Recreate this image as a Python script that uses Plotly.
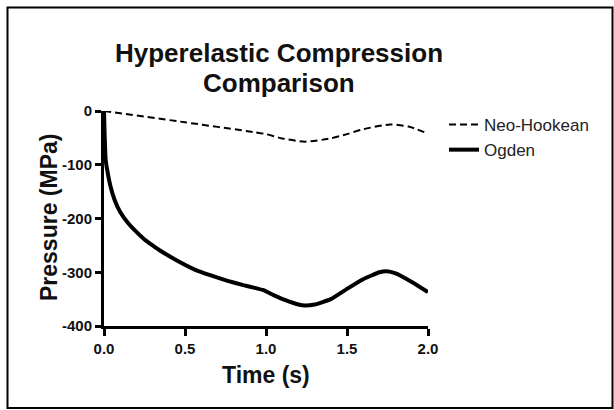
import plotly.graph_objects as go

t_ogden = [0.0, 0.004, 0.01, 0.02, 0.04, 0.065, 0.1, 0.147, 0.2, 0.25, 0.3, 0.353, 0.45, 0.56, 0.66, 0.763, 0.86, 0.93, 0.98, 1.05, 1.12, 1.2, 1.24, 1.3, 1.4, 1.5, 1.6, 1.7, 1.745, 1.8, 1.9, 2.0]
p_ogden = [0, -45, -90, -110, -140, -165, -188, -208, -225, -239, -250, -261, -278, -295, -306, -316, -324, -329, -333, -343, -352, -360, -362, -360, -350, -331, -313, -300, -298, -302, -318, -337]

t_neo = [0.0, 0.5, 0.92, 1.0, 1.1, 1.24, 1.4, 1.5, 1.6, 1.765, 1.88, 2.0]
p_neo = [0, -21, -39, -43, -51, -57, -51, -43, -34, -25, -29, -42]

x_ticks = [0.0, 0.5, 1.0, 1.5, 2.0]
x_tick_labels = ["0.0", "0.5", "1.0", "1.5", "2.0"]
y_ticks = [0, -100, -200, -300, -400]
y_tick_labels = ["0", "-100", "-200", "-300", "-400"]

fig = go.Figure()
fig.add_trace(go.Scatter(x=t_neo, y=p_neo, mode="lines", name="Neo-Hookean",
                         line=dict(color="black", width=2, dash="7px,4px", shape="spline", smoothing=0.6)))
fig.add_trace(go.Scatter(x=t_ogden, y=p_ogden, mode="lines", name="Ogden",
                         line=dict(color="black", width=4, shape="spline", smoothing=0.4)))

L, R, T, B = 104, 186, 111, 84
W, H = 614, 410
pw, ph = W - L - R, H - T - B

def px2paper_x(px):
    return (px - L) / pw

def py2paper_y(py):
    return (H - B - py) / ph

fig.add_shape(type="rect", xref="paper", yref="paper",
              x0=px2paper_x(7.5), x1=px2paper_x(612.5), y0=py2paper_y(408), y1=py2paper_y(7.5),
              line=dict(color="black", width=2), fillcolor="rgba(0,0,0,0)")

title_font = dict(size=26, family="Liberation Sans, Arial, sans-serif", color="#111111", weight="bold")
fig.add_annotation(text="Hyperelastic Compression", xref="paper", yref="paper",
                   x=px2paper_x(279), y=py2paper_y(53), xanchor="center", yanchor="middle",
                   showarrow=False, font=title_font)
fig.add_annotation(text="Comparison", xref="paper", yref="paper",
                   x=px2paper_x(279), y=py2paper_y(83), xanchor="center", yanchor="middle",
                   showarrow=False, font=title_font)

axis_title_font = dict(size=23, family="Liberation Sans, Arial, sans-serif", color="#111111", weight="bold")
fig.add_annotation(text="Time (s)", xref="paper", yref="paper",
                   x=px2paper_x(266), y=py2paper_y(375), xanchor="center", yanchor="middle",
                   showarrow=False, font=axis_title_font)
fig.add_annotation(text="Pressure (MPa)", xref="paper", yref="paper", textangle=-90,
                   x=px2paper_x(49), y=py2paper_y(218), xanchor="center", yanchor="middle",
                   showarrow=False, font=axis_title_font)

tick_font = dict(size=15, family="Liberation Sans, Arial, sans-serif", color="#111111", weight="bold")

fig.update_layout(
    width=W, height=H,
    margin=dict(l=L, r=R, t=T, b=B, autoexpand=False),
    paper_bgcolor="white", plot_bgcolor="white",
    font=dict(family="Liberation Sans, Arial, sans-serif", color="black"),
    showlegend=True,
    legend=dict(x=px2paper_x(444), y=py2paper_y(107), xanchor="left", yanchor="top",
                font=dict(size=17, color="#222222", family="Liberation Sans, Arial, sans-serif"),
                bgcolor="rgba(0,0,0,0)", tracegroupgap=0, itemwidth=30),
    xaxis=dict(range=[0, 2.0], tickvals=x_ticks, ticktext=x_tick_labels,
               showgrid=False, zeroline=False, showline=True, linecolor="black", linewidth=3,
               ticks="outside", ticklen=7, tickwidth=2.5, tickcolor="black",
               tickfont=tick_font),
    yaxis=dict(range=[-400, 0], tickvals=y_ticks, ticktext=y_tick_labels,
               showgrid=False, zeroline=False, showline=True, linecolor="black", linewidth=3,
               ticks="outside", ticklen=6, tickwidth=2.5, tickcolor="black",
               tickfont=tick_font),
)

fig.write_html("out.html", config={"displayModeBar": False},
               post_script="document.body.style.margin='0px';document.body.style.overflow='hidden';")
